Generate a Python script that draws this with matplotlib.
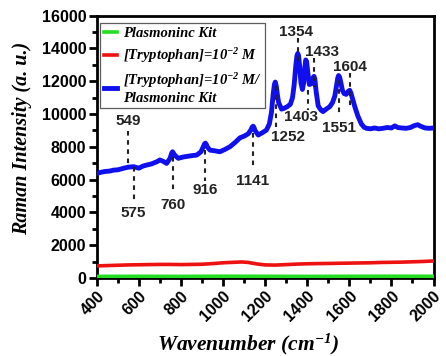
import numpy as np
import matplotlib
matplotlib.use("Agg")
import matplotlib.pyplot as plt
from matplotlib.ticker import MultipleLocator

# ---- spectra (wavenumber in cm^-1, intensity in a.u.) ----
blue_wn = [400, 420, 440, 460, 480, 500, 526, 549, 575, 600, 620, 640, 660, 685,
           700, 715, 732, 748, 756, 760, 764, 770, 787, 810, 830, 850, 875, 895,
           905, 912, 916, 920, 925, 938, 960, 985, 1010, 1032, 1060, 1080, 1100,
           1120, 1133, 1138, 1143, 1147, 1152, 1167, 1185, 1206, 1220, 1230,
           1238, 1244, 1248, 1253, 1258, 1264, 1278, 1290, 1305, 1320, 1330,
           1338, 1346, 1351, 1355, 1359, 1364, 1370, 1377, 1383, 1389, 1393,
           1397, 1403, 1410, 1420, 1427, 1432, 1436, 1442, 1452, 1465, 1475,
           1490, 1507, 1520, 1531, 1540, 1545, 1549, 1554, 1560, 1567, 1575,
           1585, 1596, 1602, 1607, 1615, 1626, 1640, 1657, 1670, 1681, 1700,
           1720, 1740, 1760, 1780, 1800, 1816, 1830, 1850, 1870, 1890, 1910,
           1925, 1940, 1960, 1980, 2000]
blue_int = [6380, 6450, 6500, 6520, 6580, 6600, 6690, 6760, 6790, 6700, 6830,
            6900, 6960, 7090, 7200, 7120, 6990, 7300, 7620, 7700, 7620, 7500,
            7300, 7380, 7420, 7460, 7500, 7700, 7980, 8180, 8230, 8160, 8000,
            7800, 7760, 7700, 7850, 8000, 8300, 8550, 8650, 8800, 9050, 9200,
            9260, 9180, 9000, 8720, 8850, 9020, 9400, 10100, 11200, 11800,
            11950, 11700, 11200, 10700, 10300, 10350, 10450, 10600, 11000,
            11800, 13000, 13550, 13700, 13550, 12900, 11900, 11500, 11900,
            12900, 13300, 13200, 12500, 11800, 11850, 12200, 12300, 12150,
            11400, 10500, 10250, 10150, 10300, 10450, 10700, 11100, 11800,
            12200, 12350, 12250, 11900, 11450, 11250, 11200, 11400, 11450,
            11300, 10950, 10450, 9900, 9400, 9200, 9130, 9100, 9150, 9100,
            9130, 9180, 9150, 9280, 9180, 9150, 9130, 9180, 9300, 9350, 9250,
            9150, 9130, 9150]

red_wn = [400, 450, 500, 550, 600, 650, 700, 750, 800, 850, 900, 950, 1000,
          1050, 1090, 1120, 1160, 1200, 1250, 1300, 1350, 1400, 1450, 1500,
          1550, 1600, 1650, 1700, 1750, 1800, 1850, 1900, 1950, 2000]
red_int = [740, 760, 780, 800, 810, 820, 830, 830, 820, 830, 840, 880, 930,
           960, 980, 950, 860, 800, 790, 820, 850, 870, 880, 890, 900, 910,
           920, 930, 950, 960, 970, 990, 1010, 1040]

green_wn = [400, 600, 800, 1000, 1200, 1400, 1600, 1800, 2000]
green_int = [100, 105, 100, 110, 105, 100, 105, 110, 105]

series_labels = ["Plasmoninc Kit",
                 "[Tryptophan]=10$^{-2}$ M",
                 "[Tryptophan]=10$^{-2}$ M/\nPlasmoninc Kit"]

# peak labels
peak_labels = ["549", "575", "760", "916", "1141", "1252", "1354",
               "1403", "1433", "1551", "1604"]
peak_wn = [549, 575, 760, 916, 1141, 1252, 1354, 1403, 1433, 1551, 1604]

# layout of the peak markers: (text x, text y, dash top, dash bottom)
label_layout = [
    (549, 9550, 8950, 6800),
    (575, 3960, 6790, 4700),
    (760, 4470, 7380, 5250),
    (916, 5370, 7800, 5900),
    (1141, 5900, 8850, 6800),
    (1308, 8620, 11700, 9200),
    (1347, 14980, 14620, 13000),
    (1371, 9840, 11460, 10250),
    (1471, 13760, 13400, 11650),
    (1553, 9130, 12100, 10060),
    (1601, 12880, 12500, 10350),
]

plt.rcParams["mathtext.fontset"] = "custom"
plt.rcParams["mathtext.rm"] = "Liberation Serif:bold:italic"
plt.rcParams["mathtext.it"] = "Liberation Serif:bold:italic"
plt.rcParams["mathtext.bf"] = "Liberation Serif:bold:italic"

fig = plt.figure(figsize=(4.46, 3.56), dpi=100)
ax = fig.add_axes([0.217, 0.219, 0.755, 0.737])

ax.plot(green_wn, green_int, color="#22dd22", lw=2.6, label=series_labels[0], zorder=3)
ax.plot(red_wn, red_int, color="#ee1111", lw=2.6, label=series_labels[1], zorder=3)
ax.plot(blue_wn, blue_int, color="#1010ee", lw=3.5, label=series_labels[2], zorder=3)

for text, wn, (tx, ty, y0, y1) in zip(peak_labels, peak_wn, label_layout):
    ax.plot([wn, wn], [y0, y1], ls=(0, (2.2, 2.2)), color="#222222", lw=1.5, zorder=4)
    ax.text(tx, ty, text, ha="center", va="center", fontsize=11,
            fontweight="bold", family="Liberation Sans", color="#222222", zorder=5)

ax.set_xlim(400, 2000)
ax.set_ylim(0, 16000)
ax.xaxis.set_major_locator(MultipleLocator(200))
ax.xaxis.set_minor_locator(MultipleLocator(100))
ax.yaxis.set_major_locator(MultipleLocator(2000))
ax.yaxis.set_minor_locator(MultipleLocator(1000))

for s in ax.spines.values():
    s.set_linewidth(2.0)
ax.tick_params(which="major", direction="out", length=6, width=2, pad=1.5)
ax.tick_params(which="minor", direction="out", length=3.5, width=2)

for lab in ax.get_yticklabels():
    lab.set_fontfamily("Liberation Sans")
    lab.set_fontweight("bold")
    lab.set_fontsize(11.5)
for lab in ax.get_xticklabels():
    lab.set_fontfamily("Liberation Sans")
    lab.set_fontweight("bold")
    lab.set_fontsize(11.5)
    lab.set_rotation(45)
    lab.set_ha("right")
    lab.set_va("top")
    lab.set_rotation_mode("anchor")

ax.set_xlabel("Wavenumber (cm$^{-1}$)", family="Liberation Serif",
              fontweight="bold", style="italic", fontsize=15.5)
ax.set_ylabel("Raman Intensity (a. u.)", family="Liberation Serif",
              fontweight="bold", style="italic", fontsize=14.5)
ax.xaxis.set_label_coords(0.45, -0.275)
ax.xaxis.label.set_va("baseline")
ax.yaxis.set_label_coords(-0.222, 0.534)
ax.yaxis.label.set_va("center")

leg = ax.legend(loc="upper left", bbox_to_anchor=(0.01, 0.971), frameon=True,
                fancybox=False, handlelength=0.9, handletextpad=0.4,
                borderpad=0.25, labelspacing=0.4, borderaxespad=0.0,
                prop={"family": "Liberation Serif", "weight": "bold",
                      "style": "italic", "size": 10.5})
leg.get_frame().set_edgecolor("#333333")
leg.get_frame().set_linewidth(0.9)

fig.savefig("out.png", dpi=100)
